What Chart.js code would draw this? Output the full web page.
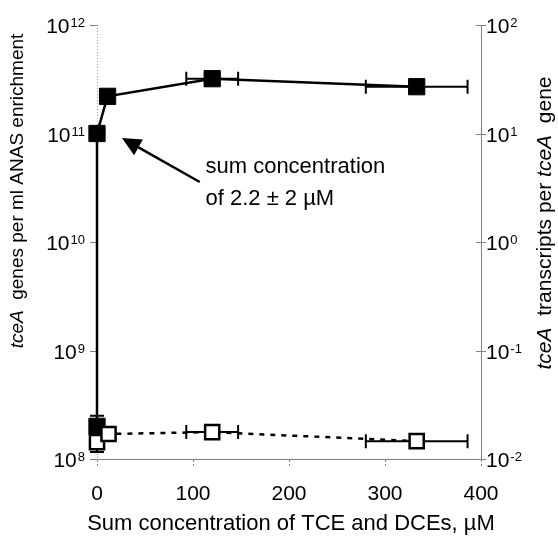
<!DOCTYPE html>
<html>
<head>
<meta charset="utf-8">
<script src="https://cdn.jsdelivr.net/npm/chart.js@4.4.1/dist/chart.umd.min.js"></script>
<style>
html,body{margin:0;padding:0;background:#fff;}
canvas{display:block;}
</style>
</head>
<body>
<canvas id="c" width="558" height="536"></canvas>
<script>
// ---- data ----
const concFilled = [0, 0, 11, 120, 333];                 // µM
const genesPerMl = [2.0e8, 1.0e11, 2.2e11, 3.2e11, 2.7e11];
const genesXErr = [0, 0, 0, 27, 53];
const genesYLow = [1.6e8, 0.88e11, null, null, null];
const genesYHigh = [2.5e8, 1.12e11, null, null, null];

const concOpen = [0, 12, 120, 333];                       // µM
const transcriptsPerGene = [1.43e-2, 1.70e-2, 1.77e-2, 1.46e-2];
const transXErr = [0, 0, 27, 53];
const transYLow = [1.16e-2, null, null, null];
const transYHigh = [1.70e-2, null, null, null];

const xTickValues = [0, 100, 200, 300, 400];
const leftExponents = [8, 9, 10, 11, 12];
const rightExponents = [-2, -1, 0, 1, 2];

const xTitle = 'Sum concentration of TCE and DCEs, \u00b5M';
const leftTitle = [['tceA', true], ['  genes per ml ANAS enrichment', false]];
const rightTitle = [['tceA', true], ['  transcripts per ', false], ['tceA', true], ['  gene', false]];
const noteLines = ['sum concentration', 'of 2.2 \u00b1 2 \u00b5M'];

const FONT = '"Liberation Sans", Arial, Helvetica, sans-serif';

function drawAxisLines(chart) {
  const ctx = chart.ctx;
  const xs = chart.scales.x, yl = chart.scales.y, yr = chart.scales.y2;
  const a = chart.chartArea;
  ctx.save();
  ctx.strokeStyle = '#9a9a9a';
  ctx.lineWidth = 1;
  ctx.setLineDash([1, 2]);
  ctx.beginPath(); ctx.moveTo(a.left + 0.5, a.top); ctx.lineTo(a.left + 0.5, a.bottom); ctx.stroke();
  ctx.setLineDash([]);
  ctx.strokeStyle = '#808080';
  ctx.beginPath(); ctx.moveTo(a.left - 7, a.bottom + 0.5); ctx.lineTo(a.right, a.bottom + 0.5); ctx.stroke();
  ctx.beginPath(); ctx.moveTo(a.right + 0.5, a.top); ctx.lineTo(a.right + 0.5, a.bottom); ctx.stroke();
  leftExponents.forEach(e => {
    const y = Math.round(yl.getPixelForValue(Math.pow(10, e))) + 0.5;
    ctx.beginPath(); ctx.moveTo(a.left - 7, y); ctx.lineTo(a.left, y); ctx.stroke();
  });
  rightExponents.forEach(e => {
    const y = Math.round(yr.getPixelForValue(Math.pow(10, e))) + 0.5;
    ctx.beginPath(); ctx.moveTo(a.right - 5, y); ctx.lineTo(a.right + 5, y); ctx.stroke();
  });
  ctx.setLineDash([2, 2]);
  xTickValues.forEach(v => {
    const x = Math.round(xs.getPixelForValue(v)) + 0.5;
    ctx.beginPath(); ctx.moveTo(x, a.bottom + 1); ctx.lineTo(x, a.bottom + 8); ctx.stroke();
  });
  ctx.restore();
}

const errorBars = {
  id: 'errorBars',
  beforeDatasetsDraw(chart) {
    drawAxisLines(chart);
    const ctx = chart.ctx;
    const xs = chart.scales.x;
    const sets = [
      {x: concFilled, y: genesPerMl, xe: genesXErr, lo: genesYLow, hi: genesYHigh, ys: chart.scales.y},
      {x: concOpen, y: transcriptsPerGene, xe: transXErr, lo: transYLow, hi: transYHigh, ys: chart.scales.y2}
    ];
    ctx.save();
    ctx.strokeStyle = '#000';
    ctx.lineWidth = 2;
    const cap = 7;
    sets.forEach(s => {
      s.x.forEach((xv, i) => {
        const px = xs.getPixelForValue(xv);
        const py = s.ys.getPixelForValue(s.y[i]);
        if (s.xe[i]) {
          const x1 = xs.getPixelForValue(xv - s.xe[i]);
          const x2 = xs.getPixelForValue(xv + s.xe[i]);
          ctx.beginPath();
          ctx.moveTo(x1, py); ctx.lineTo(x2, py);
          ctx.moveTo(x1, py - cap); ctx.lineTo(x1, py + cap);
          ctx.moveTo(x2, py - cap); ctx.lineTo(x2, py + cap);
          ctx.stroke();
        }
        if (s.lo[i] != null) {
          const y1 = s.ys.getPixelForValue(s.lo[i]);
          const y2 = s.ys.getPixelForValue(s.hi[i]);
          ctx.beginPath();
          ctx.moveTo(px, y1); ctx.lineTo(px, y2);
          ctx.moveTo(px - cap, y1); ctx.lineTo(px + cap, y1);
          ctx.moveTo(px - cap, y2); ctx.lineTo(px + cap, y2);
          ctx.stroke();
        }
      });
    });
    ctx.restore();
  }
};

function drawPow(ctx, x, y, exp, align) {
  const base = '10', e = String(exp);
  ctx.font = '21px ' + FONT;
  const bw = ctx.measureText(base).width;
  ctx.font = '13px ' + FONT;
  const ew = ctx.measureText(e).width;
  const start = align === 'right' ? x - bw - ew - 1 : x;
  ctx.textAlign = 'left';
  ctx.textBaseline = 'alphabetic';
  ctx.font = '21px ' + FONT;
  ctx.fillText(base, start, y + 8);
  ctx.font = '13px ' + FONT;
  ctx.fillText(e, start + bw + 1, y + 2);
}

function drawRich(ctx, parts, cx, cy, size) {
  let total = 0;
  parts.forEach(p => { ctx.font = (p[1] ? 'italic ' : '') + size + 'px ' + FONT; total += ctx.measureText(p[0]).width; });
  let x = cx - total / 2;
  ctx.textBaseline = 'middle';
  ctx.textAlign = 'left';
  parts.forEach(p => {
    ctx.font = (p[1] ? 'italic ' : '') + size + 'px ' + FONT;
    ctx.fillText(p[0], x, cy);
    x += ctx.measureText(p[0]).width;
  });
}

const labelsPlugin = {
  id: 'labelsPlugin',
  afterDraw(chart) {
    const ctx = chart.ctx;
    const xs = chart.scales.x, yl = chart.scales.y, yr = chart.scales.y2;
    ctx.save();
    ctx.fillStyle = '#000';
    leftExponents.forEach(e => drawPow(ctx, 85, yl.getPixelForValue(Math.pow(10, e)), e, 'right'));
    rightExponents.forEach(e => drawPow(ctx, 486, yr.getPixelForValue(Math.pow(10, e)), e, 'left'));
    ctx.font = '21px ' + FONT;
    ctx.textAlign = 'center';
    ctx.textBaseline = 'middle';
    xTickValues.forEach(v => ctx.fillText(String(v), xs.getPixelForValue(v), 494));

    ctx.font = '22px ' + FONT;
    ctx.fillText(xTitle, 291, 524);
    ctx.save();
    ctx.translate(18, 191); ctx.rotate(-Math.PI / 2);
    drawRich(ctx, leftTitle, 0, 0, 19);
    ctx.restore();
    ctx.save();
    ctx.translate(545, 223); ctx.rotate(-Math.PI / 2);
    drawRich(ctx, rightTitle, 0, 0, 21);
    ctx.restore();

    // annotation arrow + text
    const tipX = xs.getPixelForValue(26), tipY = yl.getPixelForValue(9.1e10);
    const tailX = xs.getPixelForValue(107), tailY = yl.getPixelForValue(3.57e10);
    const ang = Math.atan2(tipY - tailY, tipX - tailX);
    const hl = 19, hw = 9;
    const bx = tipX - hl * Math.cos(ang), by = tipY - hl * Math.sin(ang);
    ctx.strokeStyle = '#000';
    ctx.lineWidth = 2.5;
    ctx.beginPath(); ctx.moveTo(tailX, tailY); ctx.lineTo(bx, by); ctx.stroke();
    ctx.beginPath();
    ctx.moveTo(tipX, tipY);
    ctx.lineTo(bx + hw * Math.sin(ang), by - hw * Math.cos(ang));
    ctx.lineTo(bx - hw * Math.sin(ang), by + hw * Math.cos(ang));
    ctx.closePath(); ctx.fill();

    ctx.font = '22px ' + FONT;
    ctx.textAlign = 'left';
    ctx.textBaseline = 'alphabetic';
    const tx = xs.getPixelForValue(113);
    ctx.fillText(noteLines[0], tx, 173);
    ctx.fillText(noteLines[1], tx, 205);
    ctx.restore();
  }
};

new Chart(document.getElementById('c'), {
  type: 'line',
  data: {
    datasets: [
      {
        label: 'tceA transcripts per tceA gene',
        data: concOpen.map((x, i) => ({x: x, y: transcriptsPerGene[i]})),
        yAxisID: 'y2',
        borderColor: '#000',
        borderWidth: 2.5,
        borderDash: [5, 6],
        pointStyle: 'rect',
        pointRadius: 10,
        pointBackgroundColor: '#fff',
        pointBorderColor: '#000',
        pointBorderWidth: 2.5,
        tension: 0,
        clip: false,
        order: 0
      },
      {
        label: 'tceA genes per ml ANAS enrichment',
        data: concFilled.map((x, i) => ({x: x, y: genesPerMl[i]})),
        yAxisID: 'y',
        borderColor: '#000',
        borderWidth: 2.5,
        pointStyle: 'rect',
        pointRadius: 11.5,
        pointBackgroundColor: '#000',
        pointBorderColor: '#000',
        pointBorderWidth: 1,
        tension: 0,
        clip: false,
        order: 1
      }
    ]
  },
  options: {
    responsive: false,
    animation: false,
    events: [],
    layout: {padding: {top: 25, left: 0, right: 0, bottom: 0}},
    plugins: {legend: {display: false}, tooltip: {enabled: false}},
    scales: {
      x: {
        type: 'linear', min: 0, max: 400,
        ticks: {display: false}, grid: {display: false}, border: {display: false},
        afterFit(s) { s.height = 77; }
      },
      y: {
        type: 'logarithmic', position: 'left', min: 1e8, max: 1e12,
        ticks: {display: false}, grid: {display: false}, border: {display: false},
        afterFit(s) { s.width = 97; }
      },
      y2: {
        type: 'logarithmic', position: 'right', min: 1e-2, max: 1e2,
        ticks: {display: false}, grid: {display: false}, border: {display: false},
        afterFit(s) { s.width = 77; }
      }
    }
  },
  plugins: [errorBars, labelsPlugin]
});
</script>
</body>
</html>
